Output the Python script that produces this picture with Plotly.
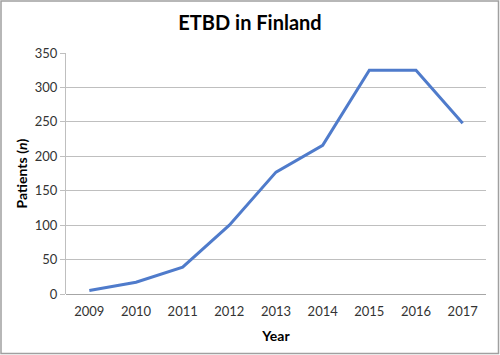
import plotly.graph_objects as go

years = ["2009", "2010", "2011", "2012", "2013", "2014", "2015", "2016", "2017"]
patients = [5, 17, 39, 100, 177, 216, 325, 325, 248]
y_ticks = [0, 50, 100, 150, 200, 250, 300, 350]

W, H = 500, 355
L, R, T, B = 66, 14, 53, 61

fig = go.Figure()
fig.add_trace(go.Scatter(
    x=years, y=patients, mode="lines",
    line=dict(color="#4F7BCB", width=3),
    showlegend=False,
))

pw = W - L - R
ph = H - T - B
def px_x(p):
    return (p - L) / pw
def px_y(p):
    return (H - B - p) / ph

fig.update_layout(
    width=W, height=H,
    margin=dict(l=L, r=R, t=T, b=B, autoexpand=False),
    paper_bgcolor="white", plot_bgcolor="white",
    font=dict(family="Lato, Carlito, sans-serif", color="#333333", size=13),
    title=dict(text="<b>ETBD in Finland</b>", x=0.5, xref="container", xanchor="center",
               y=1 - 23 / H, yanchor="middle",
               font=dict(size=20, color="#000000")),
    xaxis=dict(
        type="category", range=[-0.5, 8.5], automargin=False,
        showgrid=False, showline=False, ticks="",
        ticklabelstandoff=8,
        tickfont=dict(size=13, color="#333333"),
        title=dict(text="<b>Year</b>", font=dict(size=14, color="#000000"), standoff=13),
    ),
    yaxis=dict(
        range=[0, 350], tickvals=y_ticks, automargin=False,
        showgrid=True, gridcolor="#BFBFBF", gridwidth=1,
        showline=True, linecolor="#BFBFBF", linewidth=1,
        ticks="outside", ticklen=5, tickcolor="#BFBFBF",
        zeroline=True, zerolinecolor="#A6A6A6", zerolinewidth=1,
        tickfont=dict(size=13, color="#333333"),
        title=dict(text="<b>Patients (<i>n</i>)</b>", font=dict(size=14, color="#000000"), standoff=3),
    ),
    shapes=[dict(
        type="rect", xref="paper", yref="paper",
        x0=px_x(1), x1=px_x(W - 1.5), y0=px_y(H - 1.5), y1=px_y(1),
        line=dict(color="#A0A0A0", width=1.5), fillcolor="rgba(0,0,0,0)",
        layer="above",
    )],
)

fig.write_html("out.html", config={"displayModeBar": False},
               post_script="document.body.style.margin='0';document.body.style.overflow='hidden';")
